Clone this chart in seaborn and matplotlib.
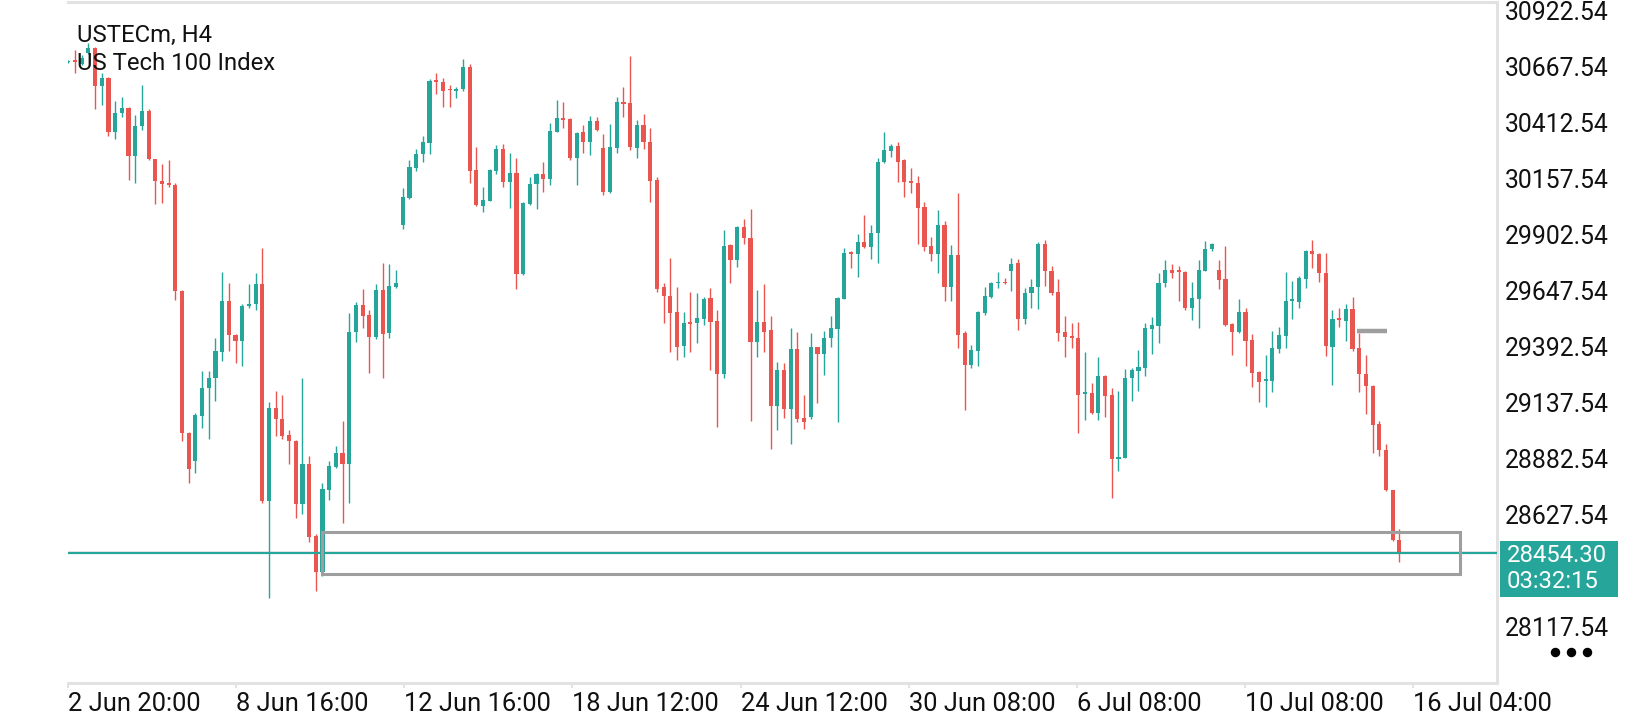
"""
USTECm H4 candlestick chart (MT5 mobile look), drawn with seaborn + matplotlib.
"""

import numpy as np
import matplotlib
matplotlib.use("Agg")
import matplotlib.pyplot as plt
from matplotlib.patches import Rectangle
from matplotlib.lines import Line2D
import seaborn as sns


# =============================================
# 1. DATA
# =============================================

symbol = "USTECm, H4"
description = "US Tech 100 Index"

opens = [
    30688, 30697, 30680, 30729, 30755, 30581, 30616, 30372, 30459, 30480,
    30263, 30398, 30468, 30247, 30150, 30136, 30132, 29647, 29001, 28872,
    29080, 29206, 29250, 29368, 29601, 29448, 29419, 29577, 29586, 29681,
    28693, 29116, 29066, 28992, 28966, 28679, 28858, 28533, 28368, 28742,
    28846, 28909, 28860, 29462, 29584, 29537, 29438, 29654, 29455, 29664,
    29948, 30069, 30209, 30270, 30323, 30605, 30599, 30563, 30560, 30566,
    30666, 30198, 30036, 30059, 30195, 30294, 30145, 30185, 29725, 30044,
    30135, 30180, 30157, 30373, 30431, 30431, 30253, 30370, 30327, 30422,
    30300, 30098, 30300, 30506, 30505, 30300, 30403, 30326, 30153, 29664,
    29625, 29552, 29398, 29502, 29500, 29518, 29614, 29511, 29269, 29857,
    29789, 29939, 29890, 29417, 29506, 29470, 29125, 29288, 29111, 29383,
    29067, 29075, 29392, 29362, 29432, 29476, 29612, 29820, 29814, 29870,
    29849, 29910, 30233, 30286, 30308, 30244, 30148, 30138, 30030, 29854,
    29816, 29948, 29667, 29811, 29458, 29310, 29376, 29546, 29622, 29682,
    29688, 29740, 29773, 29518, 29637, 29664, 29861, 29738, 29643, 29461,
    29438, 29433, 29178, 29181, 29090, 29260, 29174, 28883, 28888, 29250,
    29285, 29298, 29476, 29488, 29682, 29743, 29735, 29735, 29568, 29611,
    29740, 29837, 29743, 29702, 29497, 29461, 29553, 29424, 29280, 29237,
    29239, 29383, 29444, 29601, 29599, 29702, 29830, 29816, 29731, 29394,
    29521, 29512, 29565, 29386, 29269, 29214, 29041, 28923, 28740, 28513,
]

highs = [
    30700, 30746, 30720, 30776, 30760, 30642, 30620, 30511, 30529, 30485,
    30451, 30586, 30477, 30250, 30224, 30242, 30137, 29650, 29004, 29093,
    29281, 29285, 29433, 29734, 29685, 29452, 29586, 29681, 29727, 29845,
    29142, 29194, 29172, 29015, 28970, 29250, 28898, 28540, 28772, 28871,
    28940, 29053, 29546, 29598, 29655, 29563, 29681, 29776, 29772, 29744,
    30118, 30244, 30294, 30353, 30611, 30639, 30616, 30586, 30575, 30702,
    30680, 30305, 30119, 30204, 30312, 30317, 30274, 30252, 30052, 30168,
    30184, 30233, 30411, 30517, 30507, 30434, 30370, 30403, 30444, 30438,
    30362, 30408, 30532, 30575, 30717, 30426, 30453, 30391, 30165, 29682,
    29796, 29664, 29553, 29644, 29637, 29622, 29661, 29561, 29925, 29861,
    29943, 29975, 30021, 29652, 29679, 29534, 29324, 29318, 29477, 29461,
    29174, 29458, 29394, 29465, 29534, 29622, 29842, 29830, 29905, 29993,
    29948, 30255, 30371, 30317, 30324, 30247, 30206, 30171, 30051, 29895,
    30016, 29968, 29857, 30092, 29465, 29401, 29558, 29664, 29690, 29732,
    29705, 29796, 29792, 29660, 29702, 29869, 29880, 29761, 29700, 29534,
    29503, 29506, 29370, 29230, 29348, 29265, 29204, 29192, 29291, 29295,
    29379, 29503, 29527, 29728, 29789, 29770, 29761, 29738, 29690, 29789,
    29875, 29867, 29789, 29852, 29503, 29611, 29571, 29452, 29285, 29356,
    29465, 29485, 29735, 29694, 29716, 29834, 29880, 29820, 29819, 29561,
    29568, 29587, 29618, 29458, 29356, 29220, 29057, 28950, 28742, 28563,
]

lows = [
    30684, 30642, 30677, 30725, 30477, 30494, 30355, 30338, 30442, 30151,
    30137, 30381, 30242, 30042, 30050, 30120, 29607, 28963, 28772, 28818,
    29024, 28972, 29146, 29328, 29372, 29320, 29306, 29570, 29563, 28684,
    28249, 28989, 28972, 28858, 28615, 28632, 28502, 28279, 28349, 28697,
    28841, 28589, 28684, 29415, 29480, 29276, 29429, 29250, 29433, 29660,
    29928, 30065, 30195, 30236, 30270, 30543, 30487, 30487, 30528, 30560,
    30141, 30034, 30009, 30057, 30180, 30122, 30027, 29658, 29722, 30040,
    30021, 30100, 30130, 30370, 30391, 30244, 30130, 30277, 30267, 30378,
    30085, 30095, 30274, 30438, 30289, 30255, 30294, 30054, 29644, 29503,
    29371, 29333, 29345, 29371, 29412, 29492, 29286, 29028, 29250, 29685,
    29758, 29860, 29057, 29348, 29371, 28926, 29014, 29071, 28949, 29049,
    29020, 29063, 29139, 29265, 29394, 29052, 29610, 29751, 29713, 29845,
    29793, 29773, 30229, 30259, 30145, 30077, 30095, 29861, 29831, 29784,
    29731, 29603, 29603, 29389, 29105, 29295, 29307, 29540, 29614, 29660,
    29678, 29649, 29470, 29496, 29571, 29567, 29670, 29629, 29421, 29348,
    29386, 29002, 29060, 29088, 29060, 29075, 28703, 28829, 28885, 29148,
    29193, 29260, 29360, 29412, 29664, 29705, 29603, 29561, 29515, 29480,
    29738, 29831, 29656, 29488, 29356, 29458, 29306, 29212, 29143, 29121,
    29189, 29363, 29386, 29520, 29568, 29660, 29751, 29690, 29353, 29219,
    29485, 29421, 29376, 29189, 29086, 28909, 28895, 28736, 28507, 28411,
]

closes = [
    30694, 30690, 30708, 30755, 30581, 30616, 30372, 30459, 30480, 30263,
    30398, 30465, 30247, 30146, 30134, 30132, 29647, 29001, 28838, 29081,
    29206, 29253, 29372, 29601, 29445, 29419, 29581, 29589, 29681, 28693,
    29116, 29064, 28989, 28966, 28679, 28858, 28528, 28368, 28745, 28850,
    28909, 28860, 29459, 29584, 29535, 29438, 29654, 29450, 29668, 29685,
    30077, 30214, 30271, 30324, 30604, 30600, 30560, 30561, 30569, 30666,
    30195, 30040, 30062, 30198, 30294, 30145, 30185, 29725, 30050, 30135,
    30180, 30157, 30376, 30435, 30428, 30253, 30365, 30327, 30422, 30381,
    30098, 30305, 30508, 30499, 30305, 30403, 30327, 30150, 29658, 29625,
    29549, 29394, 29500, 29498, 29523, 29611, 29508, 29270, 29854, 29789,
    29940, 29887, 29417, 29506, 29462, 29125, 29288, 29111, 29383, 29064,
    29052, 29392, 29362, 29433, 29479, 29616, 29820, 29815, 29870, 29849,
    29913, 30235, 30288, 30308, 30236, 30145, 30138, 30027, 29849, 29816,
    29948, 29667, 29811, 29448, 29310, 29379, 29553, 29625, 29684, 29688,
    29682, 29770, 29518, 29640, 29664, 29861, 29737, 29640, 29458, 29436,
    29434, 29175, 29182, 29090, 29260, 29171, 28881, 28888, 29250, 29288,
    29300, 29480, 29492, 29685, 29743, 29731, 29733, 29568, 29614, 29743,
    29837, 29861, 29697, 29492, 29461, 29553, 29420, 29272, 29233, 29242,
    29389, 29447, 29603, 29605, 29705, 29830, 29814, 29728, 29398, 29520,
    29516, 29565, 29383, 29269, 29214, 29037, 28923, 28740, 28513, 28454.30,
]

time_labels = ["2 Jun 20:00", "8 Jun 16:00", "12 Jun 16:00", "18 Jun 12:00",
               "24 Jun 12:00", "30 Jun 08:00", "6 Jul 08:00", "10 Jul 08:00",
               "16 Jul 04:00"]

price_ticks = [30922.54, 30667.54, 30412.54, 30157.54, 29902.54, 29647.54,
               29392.54, 29137.54, 28882.54, 28627.54, 28117.54]

last_price = 28454.30
ask_price = 28459.8
countdown = "03:32:15"

# drawn objects on the chart (bar index / price)
zone_start, zone_end = 37.0, 207.0
zone_low, zone_high = 28357, 28550
marker_level = 29465
marker_start, marker_end = 191.7, 196.2


# =============================================
# 2. STYLE
# =============================================

UP = "#26a69a"
DOWN = "#e9554f"
GRID = "#e2e2e2"
BOX = "#9e9e9e"
FS = 17.2

sns.set_theme(style="white")
plt.rcParams["font.family"] = ["Roboto", "DejaVu Sans"]

W, H = 1640, 720
fig = plt.figure(figsize=(W / 100, H / 100), dpi=100)
ax = fig.add_axes([68 / W, 1 - 683 / H, (1497 - 68) / W, (683 - 2) / H])


# =============================================
# 3. CANDLES
# =============================================

o = np.array(opens, dtype=float)
h = np.array(highs, dtype=float)
l = np.array(lows, dtype=float)
c = np.array(closes, dtype=float)
x = np.arange(len(o)) - 1

colors = np.where(c >= o, UP, DOWN)
body_low = np.minimum(o, c)
body_h = np.maximum(np.abs(c - o), 8.0)

ax.vlines(x, l, h, colors=colors, linewidth=1.0, zorder=2)
ax.bar(x, body_h, bottom=body_low, width=0.62, color=colors, linewidth=0, zorder=3)

# price lines
ax.axhline(ask_price, color=DOWN, linewidth=0.9, zorder=4)
ax.axhline(last_price, color=UP, linewidth=1.6, zorder=4)

# rectangle zone + short level marker
ax.add_patch(Rectangle((zone_start, zone_low), zone_end - zone_start, zone_high - zone_low,
                       fill=False, edgecolor=BOX, linewidth=2.2, zorder=5))
ax.hlines(marker_level, marker_start, marker_end, color=BOX, linewidth=3.2, zorder=5)


# =============================================
# 4. AXES
# =============================================

ax.set_xlim(-1.05, 212.6)
ax.set_ylim(27862, 30963.5)

ax.yaxis.tick_right()
ax.set_yticks(price_ticks)
ax.set_yticklabels([f"{v:.2f}" for v in price_ticks])
ax.tick_params(axis="y", right=True, left=False, length=4.3, width=1.4, color=GRID,
               pad=1.5, labelsize=17.8, labelcolor="#111111")

ax.set_xticks(np.linspace(-1.0, 200.0, 9))
ax.set_xticklabels(time_labels, ha="left")
ax.tick_params(axis="x", bottom=True, length=3.6, width=1.4, color=GRID,
               pad=3, labelsize=18.4, labelcolor="#111111")

sns.despine(ax=ax, left=True, top=False, right=False, bottom=False)
for side in ["top", "right", "bottom"]:
    ax.spines[side].set_color(GRID)
    ax.spines[side].set_linewidth(2.2)
ax.grid(False)

# symbol header
fig.text(77 / W, 1 - 42 / H, symbol, fontsize=FS, color="#111111", va="baseline")
fig.text(77 / W, 1 - 69.5 / H, description, fontsize=FS, color="#111111", va="baseline")

# current price box on the right scale
fig.add_artist(Rectangle((1500 / W, 1 - 597 / H), 118 / W, 56 / H,
                         transform=fig.transFigure, facecolor=UP, edgecolor="none"))
fig.text(1507 / W, 1 - 555 / H, f"{last_price:.2f}", fontsize=FS, color="white", va="center")
fig.text(1507 / W, 1 - 582 / H, countdown, fontsize=FS, color="white", va="center")

# menu dots
fig.add_artist(Line2D([1555 / W, 1571 / W, 1587 / W], [1 - 652 / H] * 3,
                      transform=fig.transFigure, linestyle="none", marker="o",
                      markersize=5.8, color="black"))

fig.savefig("out.png", dpi=100, facecolor="white")
